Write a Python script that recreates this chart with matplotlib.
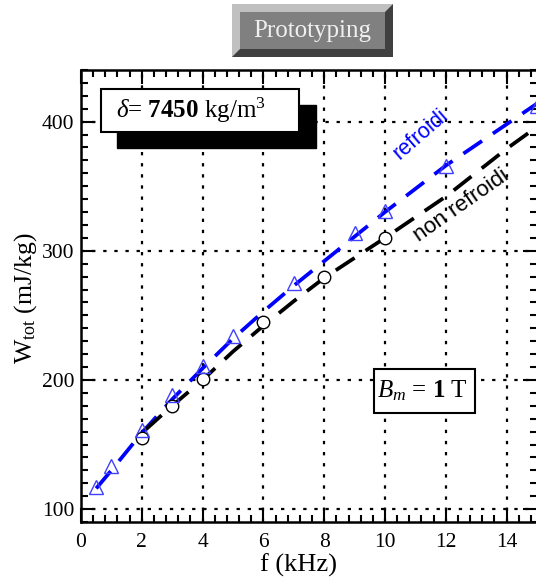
import matplotlib
matplotlib.use("Agg")
import matplotlib.pyplot as plt
from matplotlib.patches import Rectangle, Polygon
from matplotlib.ticker import MultipleLocator

plt.rcParams["font.family"] = "Liberation Serif"
plt.rcParams["mathtext.fontset"] = "custom"
plt.rcParams["mathtext.rm"] = "Liberation Serif"
plt.rcParams["mathtext.it"] = "Liberation Serif:italic"
plt.rcParams["mathtext.bf"] = "Liberation Serif:bold"

# mesures - refroidi
f_ref = [0.5, 1, 2, 3, 4, 5, 7, 9, 10, 12, 15]
w_ref = [117, 133, 161, 188, 211, 234, 275, 314, 331, 366, 412]
# mesures - non refroidi
f_non = [2, 3, 4, 6, 8, 10]
w_non = [155, 180, 201, 245, 280, 310]

# courbes
f_fit_ref = [0.5, 1, 2, 3, 4, 5, 6, 7, 8, 9, 10, 12, 14, 15]
w_fit_ref = [116, 130, 159, 185, 209, 232, 253, 273, 292, 311, 330, 366, 398, 414]
f_fit_non = [2.1, 3, 4, 5, 6, 7, 8, 10, 12, 14, 15]
w_fit_non = [161, 180, 200, 222, 242, 261, 279, 310, 342, 379, 396]

W, H = 536, 578
fig = plt.figure(figsize=(W / 100, H / 100), dpi=100)


def fx(px):
    return px / W


def fy(py):
    return 1 - py / H


ax = fig.add_axes([fx(81), fy(522), fx(537) - fx(81), fy(70) - fy(522)])
ax.set_xlim(0, 15)
ax.set_ylim(90, 440)

ax.grid(True, which="major", color="black", linestyle=(0, (1.5, 3.5)), linewidth=1.6)
ax.set_axisbelow(True)

ax.plot(f_fit_ref, w_fit_ref, color="#0000ff", lw=2.7, dashes=(6, 3.5), zorder=3)
ax.plot(f_fit_non, w_fit_non, color="black", lw=2.7, dashes=(6, 3.5), zorder=3)
ax.plot(f_non, w_non, "o", ms=9, mfc="white", mec="black", mew=1, zorder=4)
ax.plot(f_ref, w_ref, "^", ms=10, mfc="none", mec="#4040ff", mew=1, zorder=5)

ax.text(11.18, 390.6, "refroidi", color="#0000ff", rotation=41, fontsize=15.5,
        family="Liberation Sans", ha="center", va="center")
ax.text(12.5, 335, "non refroidi", color="black", rotation=35, fontsize=16,
        family="Liberation Sans", ha="center", va="center")

ax.xaxis.set_major_locator(MultipleLocator(2))
ax.xaxis.set_minor_locator(MultipleLocator(0.4))
ax.yaxis.set_major_locator(MultipleLocator(100))
ax.yaxis.set_minor_locator(MultipleLocator(10))
ax.tick_params(which="both", direction="in", top=True, right=True, labelsize=15.5,
               width=1.5)
ax.tick_params(axis="x", which="both", pad=8)
ax.tick_params(axis="y", which="both", pad=5)
ax.tick_params(which="major", length=10)
ax.tick_params(which="minor", length=5)
for s in ax.spines.values():
    s.set_linewidth(1.8)

# titres des axes
fig.text(fx(298), fy(565), "f (kHz)", fontsize=19, ha="center", va="center")
fig.text(fx(26), fy(298), r"W$_{\mathregular{tot}}$ (mJ/kg)", fontsize=18.5,
         rotation=90, ha="center", va="center")

# boite densite avec ombre
fig.patches.append(Rectangle((fx(117), fy(148)), fx(316) - fx(117), fy(105) - fy(148),
                             transform=fig.transFigure, fc="black", ec="black", zorder=6))
fig.patches.append(Rectangle((fx(101), fy(132)), fx(299) - fx(101), fy(89) - fy(132),
                             transform=fig.transFigure, fc="white", ec="black", lw=1.5, zorder=7))
fig.text(fx(191), fy(110), r"$\delta$= $\mathbf{7450}$ kg/m$^3$", fontsize=18,
         ha="center", va="center", zorder=8)

# boite induction
fig.patches.append(Rectangle((fx(374), fy(413)), fx(475) - fx(374), fy(369) - fy(413),
                             transform=fig.transFigure, fc="white", ec="black", lw=1.5, zorder=7))
fig.text(fx(422), fy(391), r"$B_m$ = $\mathbf{1}$ T", fontsize=18,
         ha="center", va="center", zorder=8)

# bouton Prototyping
x0, y0, x1, y1 = 232, 4, 393, 57
b = 8
fig.patches.append(Rectangle((fx(x0), fy(y1)), fx(x1) - fx(x0), fy(y0) - fy(y1),
                             transform=fig.transFigure, fc="#404040", ec="none"))
fig.patches.append(Polygon([(fx(x0), fy(y0)), (fx(x1), fy(y0)), (fx(x1 - b), fy(y0 + b)),
                            (fx(x0 + b), fy(y0 + b)), (fx(x0 + b), fy(y1 - b)), (fx(x0), fy(y1))],
                           closed=True, transform=fig.transFigure, fc="#c0c0c0", ec="none"))
fig.patches.append(Rectangle((fx(x0 + b), fy(y1 - b)), fx(x1 - b) - fx(x0 + b), fy(y0 + b) - fy(y1 - b),
                             transform=fig.transFigure, fc="#808080", ec="none"))
fig.text(fx((x0 + x1) / 2), fy(31), "Prototyping", fontsize=18, color="#f0f0f0",
         ha="center", va="center")

fig.savefig("out.png", dpi=100)
